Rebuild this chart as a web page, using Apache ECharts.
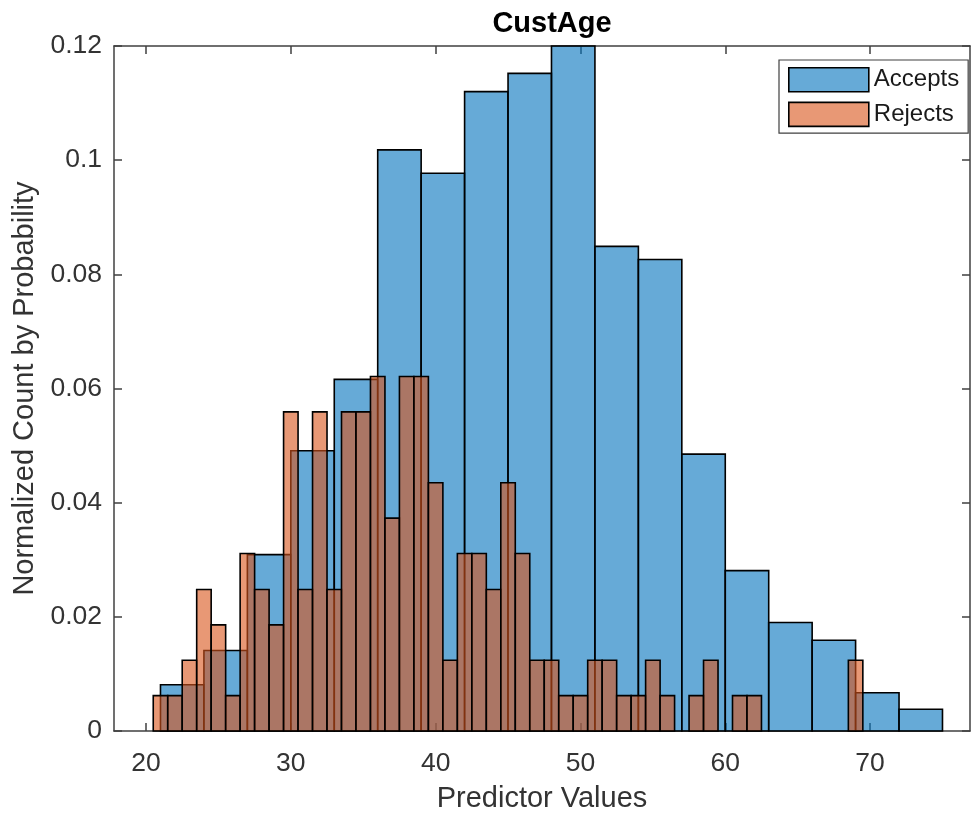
<!DOCTYPE html>
<html>
<head>
<meta charset="utf-8">
<script src="https://cdn.jsdelivr.net/npm/echarts@6/dist/echarts.min.js"></script>
<style>
  html, body { margin: 0; padding: 0; background: #ffffff; }
  #chart { width: 971px; height: 813px; }
</style>
</head>
<body>
<div id="chart"></div>
<script>
// Histogram bins (ages) and probability-normalised heights for each group
const acceptEdges = [21, 24, 27, 30, 33, 36, 39, 42, 45, 48, 51, 54, 57, 60, 63, 66, 69, 72, 75];
const acceptProb = [0.0081, 0.0141, 0.0309, 0.0491, 0.0616, 0.1018, 0.0977, 0.1120, 0.1152,
                    0.1200, 0.0849, 0.0826, 0.0485, 0.0281, 0.0190, 0.0159, 0.0067, 0.0038];

const rejectEdges = [20.5, 21.5, 22.5, 23.5, 24.5, 25.5, 26.5, 27.5, 28.5, 29.5,
                     30.5, 31.5, 32.5, 33.5, 34.5, 35.5, 36.5, 37.5, 38.5, 39.5,
                     40.5, 41.5, 42.5, 43.5, 44.5, 45.5, 46.5, 47.5, 48.5, 49.5,
                     50.5, 51.5, 52.5, 53.5, 54.5, 55.5, 56.5, 57.5, 58.5, 59.5,
                     60.5, 61.5, 62.5, 63.5, 64.5, 65.5, 66.5, 67.5, 68.5, 69.5];
const rejectProb = [0.0062, 0.0062, 0.0124, 0.0248, 0.0186, 0.0062, 0.0311, 0.0248, 0.0186, 0.0559,
                    0.0248, 0.0559, 0.0248, 0.0559, 0.0559, 0.0621, 0.0373, 0.0621, 0.0621, 0.0435,
                    0.0124, 0.0311, 0.0311, 0.0248, 0.0435, 0.0311, 0.0124, 0.0124, 0.0062, 0.0062,
                    0.0124, 0.0124, 0.0062, 0.0062, 0.0124, 0.0062, 0, 0.0062, 0.0124, 0,
                    0.0062, 0.0062, 0, 0, 0, 0, 0, 0, 0.0124];

const xTicks = [20, 30, 40, 50, 60, 70];
const seriesNames = ['Accepts', 'Rejects'];

const FONT = "'Liberation Sans', Arial, Helvetica, sans-serif";
const AXIS_COLOR = '#404040';
const TEXT_COLOR = '#333333';
const ACCEPT_FILL = 'rgba(0, 114, 189, 0.6)';
const REJECT_FILL = 'rgba(217, 83, 25, 0.6)';
const EDGE = '#000000';
const EDGE_WIDTH = 1.6;

function toBins(edges, values) {
  return values.map((v, i) => [edges[i], edges[i + 1], v]);
}

// Each bin is a rectangle from its left edge to its right edge, from zero up to its height
function binRenderer(fill) {
  return function (params, api) {
    const h = api.value(2);
    if (!(h > 0)) return null;
    const topLeft = api.coord([api.value(0), h]);
    const bottomRight = api.coord([api.value(1), 0]);
    return {
      type: 'rect',
      shape: {
        x: topLeft[0],
        y: topLeft[1],
        width: bottomRight[0] - topLeft[0],
        height: bottomRight[1] - topLeft[1]
      },
      style: { fill: fill, stroke: EDGE, lineWidth: EDGE_WIDTH }
    };
  };
}

const xRange = { min: 17.79, max: 76.9 };

const chart = echarts.init(document.getElementById('chart'), null, { renderer: 'canvas' });

chart.setOption({
  animation: false,
  backgroundColor: '#ffffff',
  textStyle: { fontFamily: FONT },
  title: {
    text: 'CustAge',
    left: 547,
    top: 4,
    textAlign: 'center',
    textStyle: { fontFamily: FONT, fontSize: 29, fontWeight: 'bold', color: '#000000' }
  },
  legend: {
    orient: 'vertical',
    left: 779,
    top: 60,
    padding: [7, 9, 6, 9],
    itemGap: 9,
    itemWidth: 80,
    itemHeight: 24,
    borderColor: AXIS_COLOR,
    borderWidth: 1.2,
    backgroundColor: '#ffffff',
    textStyle: { fontFamily: FONT, fontSize: 24, color: '#1a1a1a', lineHeight: 24 },
    data: [
      { name: seriesNames[0], icon: 'rect', itemStyle: { color: ACCEPT_FILL, borderColor: EDGE, borderWidth: EDGE_WIDTH } },
      { name: seriesNames[1], icon: 'rect', itemStyle: { color: REJECT_FILL, borderColor: EDGE, borderWidth: EDGE_WIDTH } }
    ]
  },
  grid: { left: 114, top: 46, width: 856, height: 685, containLabel: false, outerBoundsMode: 'none' },
  xAxis: [
    {
      type: 'value',
      position: 'bottom',
      min: xRange.min,
      max: xRange.max,
      name: 'Predictor Values',
      nameLocation: 'middle',
      nameGap: 53,
      nameTextStyle: { fontFamily: FONT, fontSize: 29, color: TEXT_COLOR },
      axisLine: { show: true, onZero: false, lineStyle: { color: AXIS_COLOR, width: 1.5 } },
      axisTick: { show: true, inside: true, length: 8, customValues: xTicks, lineStyle: { color: AXIS_COLOR, width: 1.5 } },
      axisLabel: { show: true, customValues: xTicks, margin: 19, fontFamily: FONT, fontSize: 26.5, color: TEXT_COLOR },
      splitLine: { show: false }
    },
    {
      type: 'value',
      position: 'top',
      min: xRange.min,
      max: xRange.max,
      axisLine: { show: true, onZero: false, lineStyle: { color: AXIS_COLOR, width: 1.5 } },
      axisTick: { show: true, inside: true, length: 8, customValues: xTicks, lineStyle: { color: AXIS_COLOR, width: 1.5 } },
      axisLabel: { show: false },
      splitLine: { show: false }
    }
  ],
  yAxis: [
    {
      type: 'value',
      position: 'left',
      min: 0,
      max: 0.12,
      interval: 0.02,
      name: 'Normalized Count by Probability',
      nameLocation: 'middle',
      nameGap: 75,
      nameTextStyle: { fontFamily: FONT, fontSize: 29, color: TEXT_COLOR },
      axisLine: { show: true, onZero: false, lineStyle: { color: AXIS_COLOR, width: 1.5 } },
      axisTick: { show: true, inside: true, length: 8, lineStyle: { color: AXIS_COLOR, width: 1.5 } },
      axisLabel: {
        show: true, margin: 12, fontFamily: FONT, fontSize: 26.5, color: TEXT_COLOR,
        formatter: v => String(+v.toFixed(2))
      },
      splitLine: { show: false }
    },
    {
      type: 'value',
      position: 'right',
      min: 0,
      max: 0.12,
      interval: 0.02,
      axisLine: { show: true, onZero: false, lineStyle: { color: AXIS_COLOR, width: 1.5 } },
      axisTick: { show: true, inside: true, length: 8, lineStyle: { color: AXIS_COLOR, width: 1.5 } },
      axisLabel: { show: false },
      splitLine: { show: false }
    }
  ],
  series: [
    {
      name: seriesNames[0],
      type: 'custom',
      xAxisIndex: 0,
      yAxisIndex: 0,
      renderItem: binRenderer(ACCEPT_FILL),
      itemStyle: { color: ACCEPT_FILL, borderColor: EDGE },
      encode: { x: [0, 1], y: 2 },
      data: toBins(acceptEdges, acceptProb),
      z: 2
    },
    {
      name: seriesNames[1],
      type: 'custom',
      xAxisIndex: 0,
      yAxisIndex: 0,
      renderItem: binRenderer(REJECT_FILL),
      itemStyle: { color: REJECT_FILL, borderColor: EDGE },
      encode: { x: [0, 1], y: 2 },
      data: toBins(rejectEdges, rejectProb),
      z: 3
    }
  ]
});
</script>
</body>
</html>
